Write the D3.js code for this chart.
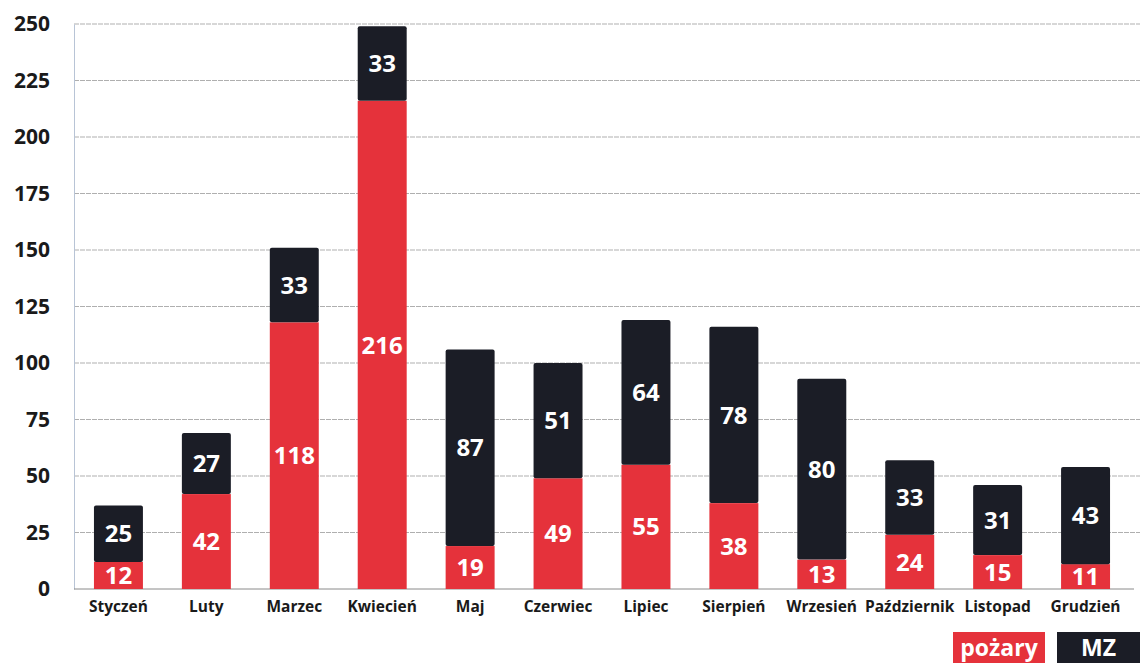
<!DOCTYPE html>
<html>
<head>
<meta charset="utf-8">
<script src="https://cdn.jsdelivr.net/npm/d3@7"></script>
<style>
    body { margin: 0; background: #fff; }
    svg { display: block; font-family: "Open Sans", "Noto Sans", sans-serif; }
</style>
</head>
<body>
<div id="chart_parent"></div>
<script>
const months = ['Styczeń', 'Luty', 'Marzec', 'Kwiecień', 'Maj', 'Czerwiec', 'Lipiec',
    'Sierpień', 'Wrzesień', 'Październik', 'Listopad', 'Grudzień'];
const pozary = [12, 42, 118, 216, 19, 49, 55, 38, 13, 24, 15, 11];
const mz = [25, 27, 33, 33, 87, 51, 64, 78, 80, 33, 31, 43];
const yTicks = [0, 25, 50, 75, 100, 125, 150, 175, 200, 225, 250];
const seriesNames = ['pożary', 'MZ'];

const chartConfig = {
    outerWidth: 1140,
    outerHeight: 663,
    left: 74,
    right: 1130,
    top: 24,
    bottom: 589,
    colors: ['#e5323b', '#1b1d26'],
};

function drawChart(rootSelector, config) {
    const svg = d3.select(rootSelector).append('svg')
        .attr('width', config.outerWidth)
        .attr('height', config.outerHeight);

    const x = d3.scaleBand()
        .domain(months)
        .range([config.left, config.right])
        .paddingInner(0.443)
        .paddingOuter(0.227);

    const y = d3.scaleLinear()
        .domain([0, 250])
        .range([config.bottom, config.top]);

    // gridlines
    svg.append('g')
        .selectAll('line')
        .data(yTicks.filter(t => t > 0))
        .join('line')
        .attr('x1', config.left)
        .attr('x2', config.outerWidth)
        .attr('y1', d => y(d))
        .attr('y2', d => y(d))
        .attr('stroke', '#a6a6a6')
        .attr('stroke-width', 0.9)
        .attr('stroke-dasharray', '5,1');

    // y axis
    const yAxis = d3.axisLeft(y).tickValues(yTicks).tickSize(0).tickPadding(24);
    const yg = svg.append('g')
        .attr('transform', `translate(${config.left},0)`)
        .call(yAxis);
    yg.select('.domain').attr('stroke', '#b8c4d6');
    yg.selectAll('text')
        .attr('font-size', 21)
        .attr('font-weight', 'bold')
        .attr('fill', '#1a1a1a')
        .attr('font-family', '"Open Sans", sans-serif');

    // baseline
    svg.append('line')
        .attr('x1', config.left)
        .attr('x2', config.right + 4)
        .attr('y1', y(0))
        .attr('y2', y(0))
        .attr('stroke', '#8a8a8a');

    // x axis labels
    const xAxis = d3.axisBottom(x).tickSize(0).tickPadding(12);
    const xg = svg.append('g')
        .attr('transform', `translate(0,${config.bottom})`)
        .call(xAxis);
    xg.select('.domain').remove();
    xg.selectAll('text')
        .attr('font-size', 15.5)
        .attr('font-weight', 'bold')
        .attr('fill', '#1a1a1a')
        .attr('font-family', '"Open Sans", sans-serif');

    const stackData = months.map((m, i) => ({ month: m, pozary: pozary[i], mz: mz[i] }));
    const stacked = d3.stack().keys(['pozary', 'mz'])(stackData);

    const groups = svg.append('g')
        .selectAll('g')
        .data(stacked)
        .join('g')
        .attr('fill', (d, i) => config.colors[i]);

    groups.selectAll('rect')
        .data(d => d)
        .join('rect')
        .attr('x', d => x(d.data.month))
        .attr('width', x.bandwidth())
        .attr('y', d => y(d[1]))
        .attr('height', d => y(d[0]) - y(d[1]))
        .attr('rx', (d, i, n) => (d3.select(n[i].parentNode).datum().key === 'mz' ? 2 : 0));

    // value labels
    groups.selectAll('text')
        .data(d => d)
        .join('text')
        .attr('x', d => x(d.data.month) + x.bandwidth() / 2)
        .attr('y', d => (y(d[0]) + y(d[1])) / 2)
        .attr('dy', '0.36em')
        .attr('text-anchor', 'middle')
        .attr('fill', '#fff')
        .attr('font-size', 24)
        .attr('font-weight', 'bold')
        .text(d => d[1] - d[0]);

    // legend
    const legend = [
        { name: seriesNames[0], x: 953, w: 92 },
        { name: seriesNames[1], x: 1057, w: 83 },
    ];
    const lg = svg.append('g').selectAll('g')
        .data(legend)
        .join('g');
    lg.append('rect')
        .attr('x', d => d.x)
        .attr('y', 632)
        .attr('width', d => d.w)
        .attr('height', 31)
        .attr('fill', (d, i) => config.colors[i]);
    lg.append('text')
        .attr('x', d => d.x + d.w / 2)
        .attr('y', 648)
        .attr('dy', '0.36em')
        .attr('text-anchor', 'middle')
        .attr('fill', '#fff')
        .attr('font-size', 23)
        .attr('font-weight', 'bold')
        .text(d => d.name);
}

drawChart('#chart_parent', chartConfig);
</script>
</body>
</html>
